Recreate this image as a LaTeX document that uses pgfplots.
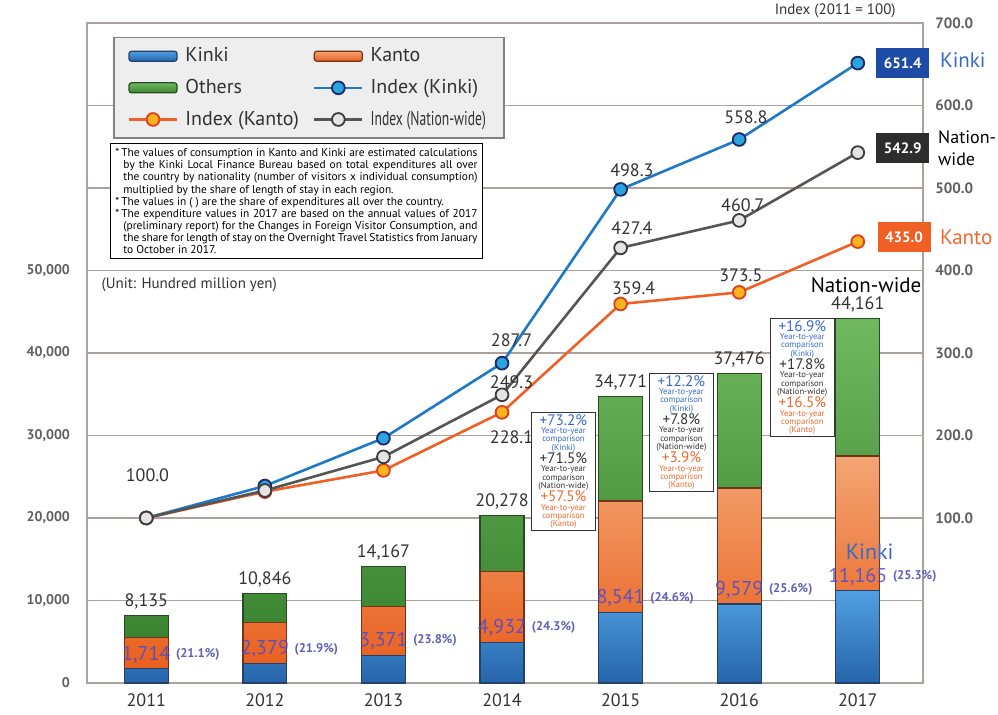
\documentclass[border=0pt]{standalone}
\usepackage{pgfplots}
\pgfplotsset{compat=1.18}
\usepackage{pgfplotstable}
\usepackage{fontspec}
\setmainfont{PT Sans}
\usepackage{xcolor}

\definecolor{gridc}{RGB}{172,162,157}
\definecolor{tickc}{RGB}{95,95,95}
\definecolor{darkc}{RGB}{50,50,50}
\definecolor{kinkiTop}{RGB}{80,160,225}
\definecolor{kinkiBot}{RGB}{38,100,170}
\definecolor{kinkiE}{RGB}{35,65,105}
\definecolor{kantoTop}{RGB}{244,165,115}
\definecolor{kantoBot}{RGB}{232,95,30}
\definecolor{kantoE}{RGB}{115,50,25}
\definecolor{othTop}{RGB}{112,185,95}
\definecolor{othBot}{RGB}{58,132,48}
\definecolor{othE}{RGB}{40,75,35}
\definecolor{kline}{RGB}{30,120,200}
\definecolor{kmark}{RGB}{40,165,225}
\definecolor{kmarkE}{RGB}{30,40,100}
\definecolor{nline}{RGB}{85,85,85}
\definecolor{nmark}{RGB}{228,228,228}
\definecolor{nmarkE}{RGB}{60,60,60}
\definecolor{tline}{RGB}{240,95,35}
\definecolor{tmark}{RGB}{250,180,30}
\definecolor{tmarkE}{RGB}{225,60,30}
\definecolor{kinkiT}{RGB}{55,105,205}
\definecolor{kantoT}{RGB}{240,105,45}
\definecolor{kvalT}{RGB}{75,75,205}
\definecolor{kpctT}{RGB}{95,95,185}
\definecolor{boxK}{RGB}{30,75,165}
\definecolor{boxN}{RGB}{45,45,45}
\definecolor{boxT}{RGB}{240,95,35}
\definecolor{legF}{RGB}{238,238,238}
\definecolor{legE}{RGB}{130,130,130}

\tikzset{
  tot/.style={font=\fontsize{9}{10}\selectfont, text=darkc, anchor=base, yshift=4.5pt},
  kv/.style={font=\fontsize{10}{11}\selectfont, text=kvalT, text opacity=0.85, inner sep=0pt},
  kp/.style={font=\bfseries\fontsize{6.3}{7}\selectfont, text=kpctT, inner sep=0pt, xshift=2.5pt},
  yoybox/.style={draw=darkc, fill=white, line width=0.5pt, text width=30pt, align=center, inner sep=1pt},
  ilab/.style={font=\fontsize{9}{10}\selectfont, text=darkc},
  vbox/.style={text=white, font=\bfseries\fontsize{7.5}{8}\selectfont, minimum width=26.5pt, minimum height=15pt, inner sep=1pt},
  side/.style={anchor=west, inner sep=0pt, font=\fontsize{10.5}{11.5}\selectfont, align=left},
}

% consumption, hundred million yen
\pgfplotstableread{
x kinki kanto others
0 1714 3760 2661
1 2379 4960 3507
2 3371 5930 4866
3 4932 8577 6769
4 8541 13513 12717
5 9579 14044 13853
6 11165 16356 16640
}\spend

% index, 2011 = 100
\pgfplotstableread{
x kinki kanto nation
0 100.0 100.0 100.0
1 138.8 131.9 133.3
2 196.7 157.7 174.1
3 287.7 228.1 249.3
4 498.3 359.4 427.4
5 558.8 373.5 460.7
6 651.4 435.0 542.9
}\idx

\newcommand{\yoy}[3]{%
  {\fontsize{7.6}{6.6}\selectfont\color{kinkiT}+#1\%\par}
  {\fontsize{4.3}{4.1}\selectfont\color{kinkiT}Year-to-year\\comparison\\(Kinki)\par}
  {\fontsize{7.6}{6.8}\selectfont\color{darkc}+#2\%\par}
  {\fontsize{4.3}{4.1}\selectfont\color{darkc}Year-to-year\\comparison\\(Nation-wide)\par}
  {\fontsize{7.6}{6.8}\selectfont\color{kantoT}+#3\%\par}
  {\fontsize{4.3}{4.1}\selectfont\color{kantoT}Year-to-year\\comparison\\(Kanto)\par}}

\begin{document}
\begin{tikzpicture}
\begin{axis}[
  name=main,
  scale only axis, width=418pt, height=330pt,
  xmin=-0.5, xmax=6.55, ymin=0, ymax=80000,
  xtick={0,1,2,3,4,5,6},
  xticklabels={2011,2012,2013,2014,2015,2016,2017},
  ytick={0,10000,20000,30000,40000,50000,60000,70000,80000},
  yticklabels={0,{10,000},{20,000},{30,000},{40,000},{50,000},{},{},{}},
  scaled y ticks=false,
  major tick length=0pt,
  ymajorgrids, grid style={gridc, line width=0.7pt},
  axis line style={gridc, line width=0.7pt},
  xticklabel style={font=\fontsize{9}{10}\selectfont, text=darkc, anchor=center, yshift=-8.5pt},
  yticklabel style={font=\bfseries\fontsize{7}{8}\selectfont, text=tickc, xshift=-5pt},
  ybar stacked, bar width=0.37,
  clip=false,
]
\addplot[draw=kinkiE, line width=0.6pt, top color=kinkiTop, bottom color=kinkiBot]
  table[x=x, y=kinki] {\spend};
\addplot[draw=kantoE, line width=0.6pt, top color=kantoTop, bottom color=kantoBot]
  table[x=x, y=kanto] {\spend};
\addplot[draw=othE, line width=0.6pt, top color=othTop, bottom color=othBot]
  table[x=x, y=others] {\spend};

% totals above bars
\node[tot] at (axis cs:0,8135) {8,135};
\node[tot] at (axis cs:1,10846) {10,846};
\node[tot] at (axis cs:2,14167) {14,167};
\node[tot] at (axis cs:3,20278) {20,278};
\node[tot] at (axis cs:4,34771) {34,771};
\node[tot] at (axis cs:5,37476) {37,476};
\node[tot] at (axis cs:6,44161) {44,161};
\node[font=\fontsize{10.5}{12}\selectfont, text=black] at (axis cs:6.07,48250) {Nation-wide};

% year-to-year boxes
\node[yoybox] at (axis cs:3.518,25640) {\yoy{73.2}{71.5}{57.5}};
\node[yoybox] at (axis cs:4.513,30360) {\yoy{12.2}{7.8}{3.9}};
\node[yoybox] at (axis cs:5.532,37030) {\yoy{16.9}{17.8}{16.5}};

% notes
\node[draw=black, fill=white, line width=0.5pt, anchor=north west, text width=181pt,
  inner sep=2.5pt, align=justify, font=\fontsize{5.7}{6.05}\selectfont, text=black]
  at (rel axis cs:0.0275,0.818) {%
  \hyphenpenalty=10000
  \hangindent=4pt\hangafter=1 *\,The values of consumption in Kanto and Kinki are estimated calculations by the Kinki Local Finance Bureau based on total expenditures all over the country by nationality (number of visitors x individual consumption) multiplied by the share of length of stay in each region.\par
  \hangindent=4pt\hangafter=1 *\,The values in ( ) are the share of expenditures all over the country.\par
  \hangindent=4pt\hangafter=1 *\,The expenditure values in 2017 are based on the annual values of 2017 (preliminary report) for the Changes in Foreign Visitor Consumption, and the share for length of stay on the Overnight Travel Statistics from January to October in 2017.\par};
\node[anchor=west, font=\fontsize{7.5}{9}\selectfont, text=darkc] at (rel axis cs:0.009,0.603) {(Unit: Hundred million yen)};
\end{axis}

\begin{axis}[
  scale only axis, width=418pt, height=330pt,
  xmin=-0.5, xmax=6.55, ymin=-100, ymax=700,
  axis x line=none, axis y line*=right,
  y axis line style={draw=none},
  ytick={100,200,300,400,500,600,700},
  major tick length=0pt,
  yticklabel={\pgfmathprintnumber[fixed,fixed zerofill,precision=1]{\tick}},
  /pgf/number format/assume math mode=true,
  yticklabel style={font=\bfseries\fontsize{7.5}{8}\selectfont, text=tickc, xshift=2.7pt},
  clip=false,
  legend columns=2,
  legend cell align=left,
  legend image code/.code={\draw[mark repeat=2,mark phase=2,#1] plot coordinates {(0pt,0pt) (12pt,0pt) (24pt,0pt)};},
  legend style={at={(rel axis cs:0.031,0.979)}, anchor=north west, draw=legE, fill=legF,
    line width=0.8pt, font=\fontsize{10}{11}\selectfont, text=darkc,
    inner xsep=7pt, inner ysep=3pt, row sep=3.2pt,
    /tikz/every odd column/.append style={column sep=1.5pt},
    /tikz/every even column/.append style={column sep=5pt}},
]
\addlegendimage{legend image code/.code={\draw[draw=kinkiE, line width=0.6pt, top color=kinkiTop, bottom color=kinkiBot, rounded corners=1.2pt] (0pt,-2.5pt) rectangle (24pt,2.5pt);}}
\addlegendentry{Kinki}
\addlegendimage{legend image code/.code={\draw[draw=kantoE, line width=0.6pt, top color=kantoTop, bottom color=kantoBot, rounded corners=1.2pt] (0pt,-2.5pt) rectangle (24pt,2.5pt);}}
\addlegendentry{Kanto}
\addlegendimage{legend image code/.code={\draw[draw=othE, line width=0.6pt, top color=othTop, bottom color=othBot, rounded corners=1.2pt] (0pt,-2.5pt) rectangle (24pt,2.5pt);}}
\addlegendentry{Others}

\addplot[kline, line width=1.3pt, mark=*, mark size=3.2pt,
  mark options={fill=kmark, draw=kmarkE, line width=0.9pt}]
  table[x=x, y=kinki] {\idx};
\addlegendentry{Index (Kinki)}
\addplot[tline, line width=1.3pt, mark=*, mark size=3.2pt,
  mark options={fill=tmark, draw=tmarkE, line width=0.9pt}]
  table[x=x, y=kanto] {\idx};
\addlegendentry{Index (Kanto)}
\addplot[nline, line width=1.3pt, mark=*, mark size=3.2pt,
  mark options={fill=nmark, draw=nmarkE, line width=0.9pt}]
  table[x=x, y=nation] {\idx};
\addlegendentry{\scalebox{0.68}[1]{Index (Nation-wide)}}

% Kinki values and shares (placed here so they sit on top of the bars;
% y = hundred million yen / 100 - 100 on this scale)
\node[kv, label={[kp]east:(21.1\%)}] at (axis cs:0,-65.4) {1,714};
\node[kv, label={[kp]east:(21.9\%)}] at (axis cs:1,-58.7) {2,379};
\node[kv, label={[kp]east:(23.8\%)}] at (axis cs:2,-48.8) {3,371};
\node[kv, label={[kp]east:(24.3\%)}] at (axis cs:3,-33.2) {4,932};
\node[kv, label={[kp]east:(24.6\%)}] at (axis cs:4,2.9) {8,541};
\node[kv, label={[kp]east:(25.6\%)}] at (axis cs:5,13.3) {9,579};
\node[kv, label={[kp]east:(25.3\%)}] at (axis cs:6,29.2) {11,165};
\node[font=\fontsize{11}{12}\selectfont, text=kinkiT] at (axis cs:6.1,58.8) {Kinki};

% index value labels
\node[ilab] at (axis cs:0.01,152) {100.0};
\node[ilab] at (axis cs:3.08,316) {287.7};
\node[ilab] at (axis cs:3.08,265) {249.3};
\node[ilab] at (axis cs:3.08,198) {228.1};
\node[ilab] at (axis cs:4.095,522) {498.3};
\node[ilab] at (axis cs:4.095,451) {427.4};
\node[ilab] at (axis cs:4.11,379) {359.4};
\node[ilab] at (axis cs:5.056,586) {558.8};
\node[ilab] at (axis cs:5.03,479) {460.7};
\node[ilab] at (axis cs:5.014,394) {373.5};

% 2017 value boxes
\node[vbox, fill=boxK] at (axis cs:6.379,651.5) {651.4};
\node[vbox, fill=boxN] at (axis cs:6.379,548.5) {542.9};
\node[vbox, fill=boxT] at (axis cs:6.39,440.6) {435.0};
\node[side, text=kinkiT] at (axis cs:6.69,655) {Kinki};
\node[side, text=black, font=\fontsize{9}{11}\selectfont] at (axis cs:6.675,548.5) {Nation-\\wide};
\node[side, text=kantoT] at (axis cs:6.69,440.6) {Kanto};

\node[font=\fontsize{7.5}{9}\selectfont, text=darkc] at (rel axis cs:0.895,1.018) {Index (2011 = 100)};
\end{axis}

\pgfresetboundingbox
\path[use as bounding box] ([xshift=-43.5pt,yshift=-16pt]main.south west)
  rectangle ([xshift=37.5pt,yshift=11.5pt]main.north east);
\end{tikzpicture}
\end{document}
